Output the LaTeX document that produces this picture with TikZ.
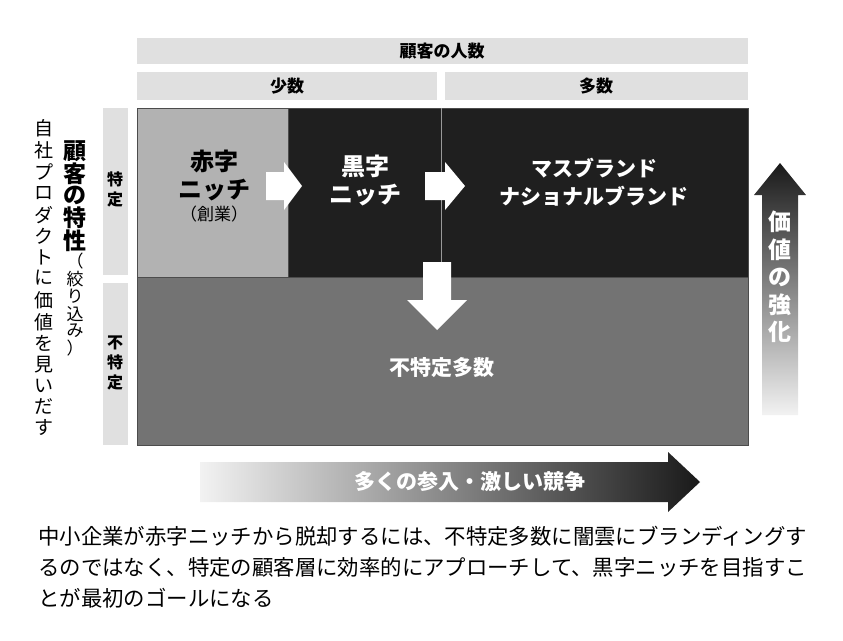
\documentclass[tikz,border=0pt]{standalone}
\usepackage{fontspec}
\setmainfont{Noto Sans CJK JP}
\newcommand{\tate}[1]{\begin{tabular}{@{}c@{}}#1\end{tabular}}
\begin{document}
\begin{tikzpicture}[x=1pt,y=-1pt,
  band/.style={fill=black!12, draw=none},
  hdr/.style={font=\bfseries\fontsize{17}{19}\selectfont},
  cell/.style={draw=black!70, line width=1pt},
  blk/.style={fill=white, draw=none},
  big/.style={font=\bfseries\fontsize{24}{28}\selectfont, align=center}]
\useasboundingbox (0,0) rectangle (843,640);
% header bands
\fill[band] (137,38) rectangle (748,64);
\node[hdr] (ninzu) at (442,51) {顧客の人数};
\fill[band] (137,72) rectangle (437,100);
\node[hdr] (shosu) at (287,86) {少数};
\fill[band] (445,72) rectangle (748,100);
\node[hdr] (tasu) at (596,86) {多数};
% side bands
\fill[band] (103,108) rectangle (128,275);
\node[hdr, font=\bfseries\fontsize{16}{20}\selectfont] (tokutei) at (115,191) {\tate{特\\定}};
\fill[band] (103,283) rectangle (128,445);
\node[hdr, font=\bfseries\fontsize{16}{20}\selectfont] (futokutei) at (115,364) {\tate{不\\特\\定}};
\node[font=\fontsize{19}{20.5}\selectfont, inner sep=0pt] (jisha) at (44,280)
  {\tate{自\\社\\プ\\ロ\\ダ\\ク\\ト\\に\\価\\値\\を\\見\\い\\だ\\す}};
\node[inner sep=0pt, anchor=north] (tokusei) at (75,140)
  {\tate{\bfseries\fontsize{23}{25}\selectfont 顧\\\bfseries\fontsize{23}{25}\selectfont 客\\\bfseries\fontsize{23}{25}\selectfont の\\\bfseries\fontsize{23}{25}\selectfont 特\\\bfseries\fontsize{23}{25}\selectfont 性\\\fontsize{17}{17}\selectfont （\\\fontsize{17}{20}\selectfont 絞\\\fontsize{17}{20}\selectfont り\\\fontsize{17}{20}\selectfont 込\\\fontsize{17}{20}\selectfont み\\\fontsize{17}{17}\selectfont ）}};
% cells
\fill[black!55, cell] (137,277) rectangle (748,445);
\fill[black!30, cell] (137,108) rectangle (288,277);
\fill[black!88, cell] (288,108) rectangle (748,277);
\draw[black!40] (441,108) -- (441,277);
\node[big] (akaji) at (214,186) {赤字\\ニッチ\\[-6pt]{\mdseries\fontsize{17}{19}\selectfont （創業）}};
\node[big, text=white] (kuroji) at (365,180) {黒字\\ニッチ};
\node[big, font=\bfseries\fontsize{21}{28}\selectfont, text=white] (mass) at (594,182) {マスブランド\\ナショナルブランド};
\node[text=white, font=\bfseries\fontsize{21}{24}\selectfont] (fukutei) at (442,368) {不特定多数};
% block arrows
\fill[blk] (266,172) -- (284,172) -- (284,162) -- (302,186) -- (284,210) -- (284,200) -- (266,200) -- cycle;
\fill[blk] (425,172) -- (445,172) -- (445,162) -- (465,186) -- (445,210) -- (445,200) -- (425,200) -- cycle;
\fill[blk] (423,262) -- (451,262) -- (451,300) -- (467,300) -- (437,330) -- (407,300) -- (423,300) -- cycle;
% side arrows
\shade[bottom color=black!5, top color=black!90] (762,415) -- (762,195) -- (754,195) -- (780,163) -- (806,195) -- (798,195) -- (798,415) -- cycle;
\node[font=\bfseries\fontsize{23}{27}\selectfont, text=white, inner sep=0pt] (kyoka) at (780,280) {\tate{価\\値\\の\\強\\化}};
\shade[left color=black!5, right color=black!90] (200,462) -- (668,462) -- (668,452) -- (700,482) -- (668,512) -- (668,502) -- (200,502) -- cycle;
\node[font=\bfseries\fontsize{21}{24}\selectfont, text=white] (sannyu) at (470,482) {多くの参入・激しい競争};
% caption
\node[anchor=north west, align=left, font=\fontsize{21.4}{31}\selectfont, inner sep=0pt] (caption) at (38,526)
  {中小企業が赤字ニッチから脱却するには、不特定多数に闇雲にブランディングす\\るのではなく、特定の顧客層に効率的にアプローチして、黒字ニッチを目指すこ\\とが最初のゴールになる};
\end{tikzpicture}
\end{document}
